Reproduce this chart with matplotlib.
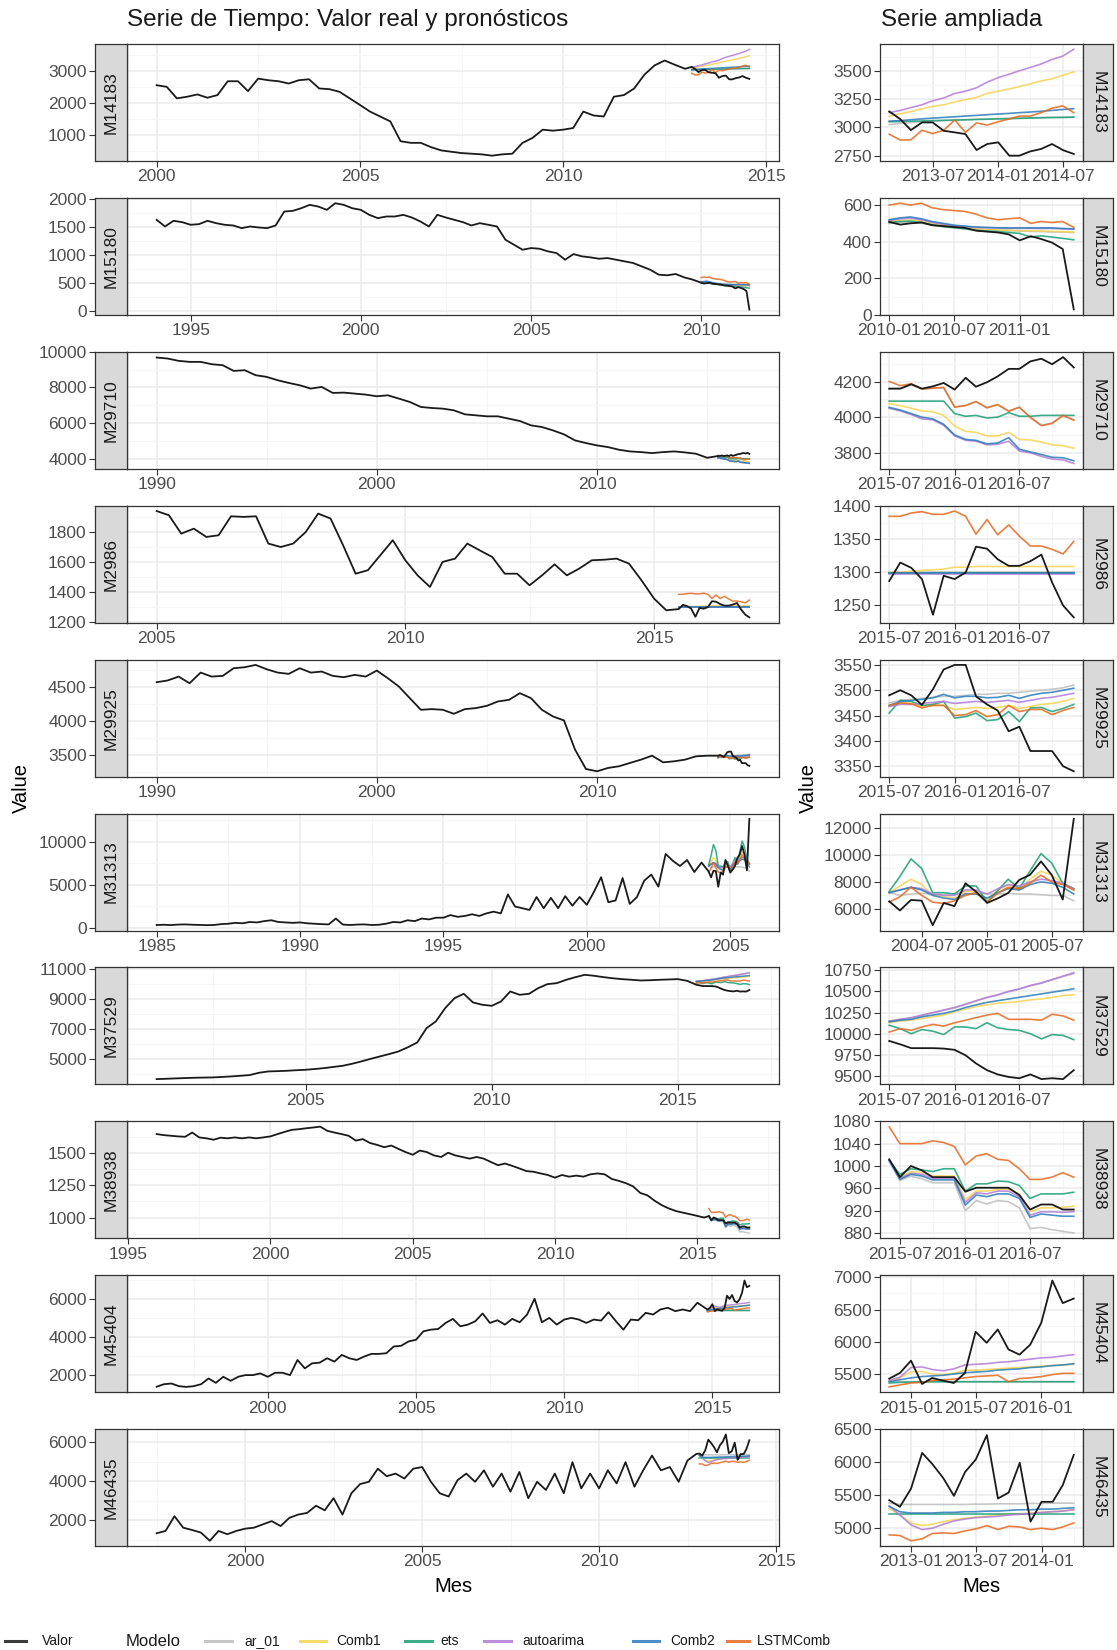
import datetime as dt
import numpy as np
import pandas as pd
import matplotlib
matplotlib.use("Agg")
import matplotlib.pyplot as plt
import matplotlib.dates as mdates
from matplotlib.lines import Line2D
from matplotlib.ticker import FixedLocator

plt.rcParams['font.family'] = ['Liberation Sans', 'DejaVu Sans']

# ---------------- data ----------------
series_ids = ['M14183', 'M15180', 'M29710', 'M2986', 'M29925',
              'M31313', 'M37529', 'M38938', 'M45404', 'M46435']

# history (before forecast window): start month and sampling step in months
hist_start = {'M14183': '2000-01', 'M15180': '1994-01', 'M29710': '1990-01', 'M2986': '2005-01',
              'M29925': '1990-01', 'M31313': '1985-01', 'M37529': '2001-01', 'M38938': '1996-01',
              'M45404': '1996-04', 'M46435': '1997-07'}
hist_step = {'M14183': 3, 'M15180': 3, 'M29710': 6, 'M2986': 3, 'M29925': 6,
             'M31313': 3, 'M37529': 3, 'M38938': 3, 'M45404': 3, 'M46435': 3}

hist_M14183 = [2567, 2516, 2155, 2206, 2278, 2175, 2258, 2691, 2691, 2382, 2773, 2722,
               2691, 2619, 2722, 2753, 2464, 2443, 2361, 2155, 1949, 1742, 1588, 1433,
               814, 763, 763, 629, 526, 485, 443, 423, 402, 361, 402, 423,
               763, 918, 1175, 1144, 1175, 1227, 1742, 1619, 1588, 2206, 2258, 2464,
               2897, 3186, 3340, 3206, 3080]
hist_M15180 = [1627, 1509, 1610, 1586, 1539, 1551, 1610, 1568, 1539, 1527, 1480, 1509,
               1491, 1480, 1527, 1775, 1787, 1834, 1894, 1864, 1805, 1923, 1894, 1834,
               1805, 1716, 1657, 1687, 1687, 1716, 1669, 1598, 1509, 1716, 1669, 1627,
               1586, 1527, 1568, 1539, 1509, 1273, 1184, 1095, 1125, 1113, 1066, 1036,
               918, 1018, 977, 959, 935, 947, 918, 888, 859, 799, 740, 652,
               640, 663, 604, 563]
hist_M29710 = [9680, 9623, 9492, 9436, 9436, 9305, 9249, 8930, 8968, 8687, 8593, 8406,
               8256, 8125, 7938, 8031, 7694, 7713, 7657, 7600, 7507, 7563, 7376, 7189,
               6908, 6851, 6814, 6720, 6496, 6439, 6383, 6383, 6252, 6121, 5877, 5784,
               5596, 5372, 5035, 4885, 4754, 4660, 4510, 4417, 4379, 4323, 4379, 4417,
               4360, 4286, 4061]
hist_M2986 = [1938, 1910, 1788, 1821, 1766, 1777, 1903, 1899, 1903, 1722, 1699, 1722,
              1799, 1921, 1888, 1711, 1522, 1545, 1644, 1744, 1611, 1511, 1434, 1600,
              1622, 1722, 1677, 1633, 1522, 1522, 1445, 1511, 1584, 1511, 1556, 1611,
              1615, 1622, 1589, 1478, 1357, 1279]
hist_M29925 = [4574, 4599, 4657, 4559, 4716, 4657, 4667, 4780, 4795, 4829,
               4765, 4716, 4697, 4780, 4716, 4731, 4667, 4648, 4682, 4657,
               4746, 4633, 4510, 4339, 4167, 4177, 4167, 4108, 4177, 4192,
               4226, 4290, 4314, 4412, 4339, 4167, 4069, 4010, 3579, 3294,
               3260, 3309, 3334, 3383, 3432, 3490, 3392, 3407, 3432, 3481, 3490]
hist_M31313 = [350, 380, 340, 400, 420, 380, 360, 330, 350, 450, 500, 600,
               550, 700, 650, 800, 900, 700, 650, 600, 650, 550, 500, 450,
               420, 1100, 400, 350, 400, 420, 350, 380, 500, 700, 650, 900,
               800, 1100, 1000, 1200, 1200, 1500, 1300, 1400, 1600, 1400, 1700, 1900,
               1700, 3900, 2500, 2300, 2100, 3600, 2300, 3500, 2300, 3700, 2600, 3600,
               2700, 4200, 5900, 3000, 3200, 5800, 2800, 3600, 5500, 6200, 4800, 8600,
               7800, 7200, 7900, 6500, 7600]
hist_M37529 = [3630, 3650, 3674, 3695, 3718, 3730, 3740, 3770, 3807, 3850, 3896, 4050,
               4140, 4160, 4184, 4220, 4251, 4300, 4362, 4440, 4517, 4650, 4806, 4980,
               5140, 5300, 5473, 5750, 6072, 7027, 7472, 8360, 9026, 9315, 8737, 8582,
               8515, 8804, 9470, 9248, 9315, 9692, 9959, 10026, 10248, 10425, 10581, 10514,
               10425, 10350, 10292, 10250, 10203, 10220, 10248, 10270, 10292, 10180]
hist_M38938 = [1649, 1641, 1636, 1631, 1628, 1661, 1623, 1616, 1605, 1621, 1616, 1623,
               1616, 1623, 1616, 1623, 1631, 1649, 1666, 1682, 1687, 1694, 1700, 1707,
               1674, 1661, 1649, 1636, 1598, 1610, 1580, 1565, 1547, 1560, 1534, 1509,
               1488, 1521, 1509, 1483, 1471, 1504, 1483, 1471, 1458, 1471, 1458, 1432,
               1407, 1420, 1402, 1382, 1361, 1356, 1343, 1331, 1310, 1331, 1318, 1326,
               1318, 1336, 1343, 1336, 1300, 1285, 1267, 1242, 1191, 1173, 1132, 1097,
               1071, 1051, 1038, 1026, 1013, 1000]
hist_M45404 = [1380, 1513, 1549,
               1408, 1372, 1408, 1513, 1813, 1584, 1902, 1690, 1902, 1990, 1990, 2078,
               1902, 2113, 2113, 1990, 2784, 2343, 2608, 2643, 2873, 2696, 3049, 2873,
               2784, 2961, 3102, 3102, 3137, 3490, 3526, 3755, 3843, 4284, 4373, 4408,
               4726, 4937, 4549, 4637, 4814, 5220, 4726, 4867, 4637, 4937, 4761, 5167,
               5997, 4761, 4990, 4637, 4902, 4990, 4902, 4726, 4902, 4849, 5291, 4814,
               4373, 4902, 4867, 5255, 5167, 5432, 5520, 5343, 5432, 5343, 5785]
hist_M46435 = [1335, 1453, 2210, 1621, 1503, 1369, 948, 1453, 1285, 1453,
               1571, 1621, 1790, 1958, 1705, 2126, 2294, 2378, 2748, 2513, 3136, 2294,
               3388, 3859, 3977, 4650, 4263, 4398, 4145, 4650, 4735, 3977, 3388, 3220,
               4061, 4398, 3977, 4566, 3725, 4398, 3472, 4482, 3136, 3977, 3557, 4398,
               3388, 4987, 3641, 4398, 3641, 4566, 3893, 4987, 3725, 4566, 5324, 4566,
               4735, 3977, 5071, 5408]
hist_values = {'M14183': hist_M14183, 'M15180': hist_M15180, 'M29710': hist_M29710,
               'M2986': hist_M2986, 'M29925': hist_M29925, 'M31313': hist_M31313,
               'M37529': hist_M37529, 'M38938': hist_M38938, 'M45404': hist_M45404,
               'M46435': hist_M46435}

# forecast window (18 months)
window_start = {'M14183': '2013-03', 'M15180': '2010-01', 'M29710': '2015-07', 'M2986': '2015-07',
                'M29925': '2015-07', 'M31313': '2004-04', 'M37529': '2015-07', 'M38938': '2015-06',
                'M45404': '2014-11', 'M46435': '2012-11'}

valor = {
    'M14183': [3141, 3073, 2976, 3044, 3044, 2970, 2956, 2941, 2800, 2853, 2868, 2750, 2750, 2788, 2809, 2853, 2800, 2765],
    'M15180': [508, 493, 500, 505, 490, 485, 480, 475, 460, 455, 450, 440, 407, 430, 415, 395, 360, 30],
    'M29710': [4160, 4160, 4185, 4160, 4173, 4192, 4155, 4221, 4171, 4196, 4229, 4271, 4271, 4313, 4328, 4297, 4337, 4279],
    'M2986': [1287, 1315, 1307, 1290, 1236, 1295, 1290, 1300, 1339, 1336, 1320, 1310, 1310, 1317, 1327, 1285, 1250, 1232],
    'M29925': [3490, 3500, 3490, 3471, 3502, 3541, 3550, 3550, 3488, 3472, 3460, 3419, 3428, 3380, 3380, 3380, 3350, 3340],
    'M31313': [6560, 5880, 6660, 6610, 4790, 6440, 6200, 7900, 7270, 6440, 6800, 7180, 8150, 8520, 9520, 8520, 6690, 12680],
    'M37529': [9915, 9875, 9830, 9830, 9830, 9825, 9810, 9745, 9650, 9570, 9520, 9490, 9475, 9520, 9465, 9475, 9465, 9570],
    'M38938': [1012, 980, 1000, 992, 980, 980, 980, 954, 961, 961, 961, 961, 948, 922, 931, 931, 922, 922],
    'M45404': [5428, 5515, 5707, 5345, 5438, 5397, 5360, 5515, 6155, 5984, 6191, 5881, 5800, 5955, 6295, 6950, 6600, 6670],
    'M46435': [5425, 5325, 5600, 6140, 5975, 5760, 5490, 5850, 6040, 6410, 5450, 5540, 5990, 5100, 5400, 5400, 5650, 6110],
}

fc_ar_01 = {
    'M14183': [3025, 3035, 3042, 3050, 3055, 3060, 3064, 3068, 3072, 3075, 3078, 3080, 3083, 3085, 3087, 3089, 3090, 3092],
    'M15180': [500, 505, 505, 500, 490, 482, 478, 472, 468, 465, 462, 460, 458, 456, 455, 453, 452, 450],
    'M29710': [4160, 4162, 4180, 4158, 4162, 4165, 4058, 4066, 4086, 4054, 4070, 4035, 4055, 4000, 3955, 3967, 4008, 3985],
    'M2986': [1300, 1300, 1300, 1300, 1300, 1300, 1300, 1300, 1300, 1300, 1300, 1300, 1300, 1300, 1300, 1300, 1300, 1300],
    'M29925': [3475, 3480, 3482, 3484, 3486, 3488, 3488, 3490, 3492, 3492, 3494, 3494, 3496, 3498, 3500, 3502, 3505, 3510],
    'M31313': [7200, 7000, 7100, 7150, 7100, 7050, 7100, 7150, 7150, 7100, 7100, 7150, 7100, 7100, 7050, 7000, 7000, 6600],
    'M37529': [10145, 10165, 10185, 10215, 10245, 10275, 10305, 10345, 10385, 10425, 10455, 10495, 10525, 10565, 10595, 10635, 10675, 10710],
    'M38938': [1008, 974, 982, 977, 970, 970, 970, 920, 938, 932, 938, 936, 925, 888, 890, 886, 883, 880],
    'M45404': [5385, 5382, 5381, 5380, 5380, 5380, 5380, 5380, 5380, 5380, 5380, 5380, 5380, 5380, 5380, 5380, 5380, 5380],
    'M46435': [5380, 5360, 5360, 5360, 5360, 5360, 5360, 5360, 5365, 5365, 5370, 5370, 5370, 5375, 5375, 5380, 5380, 5380],
}
fc_comb1 = {
    'M14183': [3100, 3120, 3140, 3165, 3185, 3200, 3225, 3245, 3265, 3300, 3320, 3340, 3360, 3385, 3410, 3430, 3460, 3490],
    'M15180': [510, 515, 518, 512, 500, 490, 482, 476, 470, 467, 464, 462, 460, 460, 458, 456, 455, 452],
    'M29710': [4075, 4065, 4050, 4035, 4030, 4010, 3950, 3920, 3915, 3895, 3895, 3915, 3875, 3872, 3860, 3845, 3840, 3825],
    'M2986': [1300, 1300, 1302, 1303, 1304, 1305, 1308, 1308, 1309, 1309, 1309, 1309, 1309, 1309, 1309, 1309, 1309, 1309],
    'M29925': [3470, 3475, 3474, 3468, 3472, 3470, 3462, 3464, 3466, 3464, 3466, 3470, 3464, 3468, 3472, 3474, 3478, 3484],
    'M31313': [7200, 7700, 8200, 7800, 7000, 6900, 6800, 7300, 7300, 6700, 7400, 7800, 7400, 8200, 8800, 8500, 7900, 7400],
    'M37529': [10130, 10150, 10160, 10180, 10200, 10220, 10260, 10290, 10320, 10340, 10360, 10370, 10380, 10400, 10410, 10430, 10450, 10460],
    'M38938': [1010, 980, 990, 988, 982, 982, 982, 940, 955, 955, 958, 958, 950, 918, 925, 925, 926, 928],
    'M45404': [5380, 5440, 5530, 5540, 5500, 5490, 5510, 5560, 5560, 5570, 5580, 5590, 5600, 5610, 5620, 5630, 5640, 5650],
    'M46435': [5300, 5200, 5080, 5040, 5060, 5100, 5130, 5150, 5170, 5180, 5200, 5210, 5220, 5230, 5240, 5250, 5260, 5280],
}
fc_ets = {
    'M14183': [3050, 3052, 3055, 3057, 3060, 3062, 3065, 3067, 3070, 3072, 3075, 3077, 3080, 3082, 3085, 3087, 3088, 3090],
    'M15180': [505, 510, 512, 505, 492, 482, 476, 470, 462, 458, 455, 450, 445, 425, 432, 425, 418, 410],
    'M29710': [4090, 4090, 4090, 4090, 4090, 4090, 4020, 4005, 4010, 3995, 4000, 4025, 4005, 4005, 4010, 4010, 4010, 4010],
    'M2986': [1299, 1299, 1299, 1299, 1299, 1299, 1299, 1299, 1299, 1299, 1299, 1299, 1299, 1299, 1299, 1299, 1299, 1299],
    'M29925': [3455, 3480, 3478, 3470, 3472, 3478, 3445, 3448, 3455, 3440, 3442, 3458, 3438, 3465, 3466, 3458, 3464, 3472],
    'M31313': [7300, 8400, 9700, 9000, 7200, 7200, 7100, 7700, 7700, 6500, 7400, 8200, 7500, 8800, 10100, 9400, 7900, 7500],
    'M37529': [10100, 10060, 10000, 10050, 10030, 9990, 10080, 10080, 10060, 10130, 10070, 10050, 10040, 10000, 9940, 9990, 9980, 9930],
    'M38938': [1010, 985, 995, 993, 990, 995, 995, 955, 968, 968, 973, 972, 965, 942, 950, 950, 950, 953],
    'M45404': [5360, 5370, 5375, 5378, 5380, 5380, 5380, 5380, 5380, 5380, 5380, 5380, 5380, 5380, 5380, 5380, 5380, 5380],
    'M46435': [5220, 5220, 5220, 5220, 5220, 5220, 5220, 5220, 5220, 5220, 5220, 5220, 5220, 5220, 5220, 5220, 5220, 5220],
}
fc_autoarima = {
    'M14183': [3130, 3150, 3175, 3200, 3235, 3260, 3300, 3320, 3350, 3400, 3440, 3470, 3500, 3530, 3560, 3600, 3630, 3690],
    'M15180': [515, 525, 528, 520, 505, 495, 488, 482, 478, 476, 474, 473, 473, 473, 472, 472, 470, 468],
    'M29710': [4050, 4035, 4015, 3990, 3985, 3955, 3895, 3870, 3865, 3845, 3848, 3865, 3810, 3800, 3780, 3765, 3760, 3740],
    'M2986': [1298, 1298, 1298, 1298, 1298, 1298, 1298, 1298, 1298, 1298, 1298, 1298, 1298, 1298, 1298, 1298, 1298, 1298],
    'M29925': [3468, 3472, 3472, 3474, 3476, 3478, 3474, 3476, 3478, 3476, 3478, 3480, 3476, 3480, 3484, 3486, 3490, 3494],
    'M31313': [7200, 7400, 7600, 7500, 7100, 7000, 7000, 7400, 7400, 7100, 7500, 7800, 7700, 8000, 8200, 8100, 7900, 7500],
    'M37529': [10150, 10170, 10190, 10220, 10250, 10280, 10310, 10350, 10390, 10430, 10460, 10500, 10530, 10570, 10600, 10640, 10680, 10720],
    'M38938': [1010, 978, 987, 985, 978, 978, 978, 935, 952, 950, 955, 955, 945, 912, 918, 918, 917, 918],
    'M45404': [5400, 5450, 5600, 5610, 5570, 5550, 5580, 5640, 5650, 5660, 5680, 5690, 5710, 5730, 5750, 5760, 5780, 5800],
    'M46435': [5340, 5200, 5050, 4980, 5000, 5060, 5110, 5140, 5160, 5170, 5180, 5200, 5210, 5220, 5240, 5250, 5260, 5280],
}
fc_comb2 = {
    'M14183': [3055, 3060, 3068, 3075, 3082, 3088, 3094, 3100, 3106, 3112, 3118, 3124, 3130, 3136, 3142, 3150, 3158, 3165],
    'M15180': [520, 530, 535, 525, 510, 500, 490, 485, 480, 478, 476, 475, 475, 475, 475, 475, 472, 470],
    'M29710': [4055, 4040, 4020, 4000, 3990, 3960, 3900, 3875, 3870, 3850, 3855, 3885, 3820, 3805, 3790, 3775, 3772, 3755],
    'M2986': [1299, 1299, 1299, 1299, 1299, 1299, 1299, 1299, 1299, 1299, 1299, 1299, 1299, 1299, 1299, 1299, 1299, 1299],
    'M29925': [3470, 3478, 3480, 3482, 3485, 3492, 3485, 3488, 3488, 3485, 3486, 3490, 3484, 3490, 3494, 3496, 3500, 3504],
    'M31313': [7200, 7400, 7600, 7400, 7000, 6800, 6700, 7100, 7100, 6800, 7200, 7500, 7400, 7800, 8000, 7900, 7600, 7100],
    'M37529': [10140, 10160, 10170, 10200, 10220, 10240, 10270, 10310, 10340, 10370, 10390, 10410, 10430, 10450, 10470, 10490, 10510, 10530],
    'M38938': [1010, 976, 985, 982, 975, 975, 975, 930, 948, 945, 950, 950, 942, 908, 914, 912, 910, 910],
    'M45404': [5380, 5410, 5440, 5460, 5470, 5480, 5500, 5520, 5530, 5540, 5560, 5570, 5580, 5600, 5610, 5630, 5640, 5660],
    'M46435': [5330, 5250, 5230, 5230, 5230, 5240, 5240, 5250, 5250, 5260, 5260, 5270, 5280, 5280, 5290, 5290, 5300, 5310],
}
fc_lstmcomb = {
    'M14183': [2940, 2888, 2890, 2975, 2945, 2975, 3065, 2956, 3040, 3020, 3050, 3075, 3100, 3100, 3130, 3170, 3190, 3130],
    'M15180': [600, 610, 600, 610, 585, 575, 570, 565, 550, 530, 520, 525, 530, 500, 510, 505, 510, 478],
    'M29710': [4200, 4177, 4187, 4158, 4163, 4167, 4056, 4065, 4088, 4052, 4071, 4033, 4056, 3998, 3952, 3965, 4010, 3983],
    'M2986': [1385, 1385, 1390, 1392, 1388, 1388, 1393, 1385, 1358, 1380, 1357, 1372, 1355, 1340, 1340, 1335, 1328, 1347],
    'M29925': [3470, 3475, 3473, 3465, 3470, 3470, 3450, 3452, 3460, 3448, 3452, 3470, 3458, 3462, 3462, 3452, 3460, 3466],
    'M31313': [6500, 6900, 7600, 7000, 6500, 6400, 6600, 7000, 7200, 6500, 7200, 7600, 7500, 7900, 8500, 8000, 7800, 7400],
    'M37529': [10020, 10060, 10040, 10080, 10110, 10090, 10130, 10160, 10190, 10220, 10240, 10170, 10170, 10170, 10160, 10230, 10210, 10160],
    'M38938': [1070, 1040, 1040, 1040, 1045, 1042, 1035, 1002, 1018, 1022, 1012, 1010, 995, 976, 976, 980, 988, 980],
    'M45404': [5300, 5330, 5360, 5370, 5400, 5410, 5420, 5440, 5460, 5470, 5480, 5380, 5430, 5440, 5460, 5490, 5510, 5510],
    'M46435': [4900, 4890, 4810, 4840, 4920, 4930, 4920, 4960, 4990, 5040, 4980, 5030, 5020, 4980, 5000, 4980, 5020, 5080],
}

model_names = ['ar_01', 'Comb1', 'ets', 'autoarima', 'Comb2', 'LSTMComb']
model_data = [fc_ar_01, fc_comb1, fc_ets, fc_autoarima, fc_comb2, fc_lstmcomb]
model_colors = ['#BDBDBD', '#F5D352', '#1B9E77', '#B07CD8', '#2B7BBA', '#E6681E']

left_xticks = {'M14183': [2000, 2005, 2010, 2015], 'M15180': [1995, 2000, 2005, 2010],
               'M29710': [1990, 2000, 2010], 'M2986': [2005, 2010, 2015],
               'M29925': [1990, 2000, 2010], 'M31313': [1985, 1990, 1995, 2000, 2005],
               'M37529': [2005, 2010, 2015], 'M38938': [1995, 2000, 2005, 2010, 2015],
               'M45404': [2000, 2005, 2010, 2015], 'M46435': [2000, 2005, 2010, 2015]}
left_yticks = {'M14183': [1000, 2000, 3000], 'M15180': [0, 500, 1000, 1500, 2000],
               'M29710': [4000, 6000, 8000, 10000], 'M2986': [1200, 1400, 1600, 1800],
               'M29925': [3500, 4000, 4500], 'M31313': [0, 5000, 10000],
               'M37529': [5000, 7000, 9000, 11000], 'M38938': [1000, 1250, 1500],
               'M45404': [2000, 4000, 6000], 'M46435': [2000, 4000, 6000]}
right_xticks = {'M14183': ['2013-07', '2014-01', '2014-07'], 'M15180': ['2010-01', '2010-07', '2011-01'],
                'M29710': ['2015-07', '2016-01', '2016-07'], 'M2986': ['2015-07', '2016-01', '2016-07'],
                'M29925': ['2015-07', '2016-01', '2016-07'], 'M31313': ['2004-07', '2005-01', '2005-07'],
                'M37529': ['2015-07', '2016-01', '2016-07'], 'M38938': ['2015-07', '2016-01', '2016-07'],
                'M45404': ['2015-01', '2015-07', '2016-01'], 'M46435': ['2013-01', '2013-07', '2014-01']}
right_yticks = {'M14183': [2750, 3000, 3250, 3500], 'M15180': [0, 200, 400, 600],
                'M29710': [3800, 4000, 4200], 'M2986': [1250, 1300, 1350, 1400],
                'M29925': [3350, 3400, 3450, 3500, 3550], 'M31313': [6000, 8000, 10000, 12000],
                'M37529': [9500, 9750, 10000, 10250, 10500, 10750],
                'M38938': [880, 920, 960, 1000, 1040, 1080],
                'M45404': [5500, 6000, 6500, 7000], 'M46435': [5000, 5500, 6000, 6500]}

# ---------------- layout ----------------
W, H = 1117, 1650
fig = plt.figure(figsize=(W / 100, H / 100), dpi=100)
fig.patch.set_facecolor('white')

ROW_TOP0, ROW_PITCH, PANEL_H = 44, 153.9, 117
L_STRIP_X0, L_X0, L_X1 = 95, 127, 779
R_X0, R_X1, R_STRIP_X1 = 880, 1083, 1113

BORDER = '#333333'
TICKCOL = '#4D4D4D'
TICK_FS = 12.5
GRID_MAJ = '#EBEBEB'
GRID_MIN = '#F5F5F5'


def mids(vals):
    step = vals[1] - vals[0]
    out = [vals[0] - step / 2]
    out += [(a + b) / 2 for a, b in zip(vals[:-1], vals[1:])]
    out.append(vals[-1] + step / 2)
    return out


def style_panel(ax):
    ax.set_facecolor('white')
    for s in ax.spines.values():
        s.set_color(BORDER)
        s.set_linewidth(0.9)
    ax.set_axisbelow(True)
    ax.grid(which='major', color=GRID_MAJ, lw=1.1)
    ax.grid(which='minor', color=GRID_MIN, lw=0.6)
    ax.tick_params(which='minor', length=0)
    ax.tick_params(which='major', length=4, width=0.8, color=BORDER,
                   labelcolor=TICKCOL, labelsize=TICK_FS, pad=2)


def style_strip(ax, label, rot):
    ax.set_facecolor('#D9D9D9')
    for s in ax.spines.values():
        s.set_color(BORDER)
        s.set_linewidth(0.9)
    ax.set_xticks([])
    ax.text(0.5, 0.5, label, transform=ax.transAxes, rotation=rot,
            ha='center', va='center', fontsize=TICK_FS, color='#1A1A1A')


for i, sid in enumerate(series_ids):
    top = ROW_TOP0 + i * ROW_PITCH
    y0 = 1 - (top + PANEL_H) / H
    hh = PANEL_H / H
    axL = fig.add_axes([L_X0 / W, y0, (L_X1 - L_X0) / W, hh])
    axLs = fig.add_axes([L_STRIP_X0 / W, y0, (L_X0 - L_STRIP_X0) / W, hh], sharey=axL)
    axR = fig.add_axes([R_X0 / W, y0, (R_X1 - R_X0) / W, hh])
    axRs = fig.add_axes([R_X1 / W, y0, (R_STRIP_X1 - R_X1) / W, hh])

    hvals = hist_values[sid]
    hdates = pd.date_range(hist_start[sid], periods=len(hvals),
                           freq=f'{hist_step[sid]}MS').to_pydatetime()
    wdates = pd.date_range(window_start[sid], periods=len(valor[sid]), freq='MS').to_pydatetime()
    all_dates = list(hdates) + list(wdates)
    all_vals = list(hvals) + list(valor[sid])

    for mname, mdat, mcol in zip(model_names, model_data, model_colors):
        axL.plot(wdates, mdat[sid], color=mcol, lw=1.1, alpha=0.85, solid_joinstyle='round')
        axR.plot(wdates, mdat[sid], color=mcol, lw=1.2, alpha=0.85, solid_joinstyle='round')
    axL.plot(all_dates, all_vals, color='#1A1A1A', lw=1.3, solid_joinstyle='round')
    axR.plot(wdates, valor[sid], color='#1A1A1A', lw=1.3, solid_joinstyle='round')

    for ax in (axL, axR):
        ax.margins(x=0.05, y=0.05)
        style_panel(ax)

    # left panel ticks
    lx = [mdates.date2num(dt.datetime(y, 1, 1)) for y in left_xticks[sid]]
    axL.set_xticks(lx)
    axL.set_xticklabels([str(y) for y in left_xticks[sid]])
    axL.xaxis.set_minor_locator(FixedLocator(mids(lx)))
    ly = left_yticks[sid]
    axL.set_yticks(ly)
    axL.yaxis.set_minor_locator(FixedLocator(mids(ly)))
    axL.tick_params(axis='y', which='both', left=False, labelleft=False)

    # left strip carries the y axis
    style_strip(axLs, sid, 90)
    axLs.tick_params(axis='y', which='major', left=True, labelleft=True, length=4,
                     width=0.8, color=BORDER, labelcolor=TICKCOL, labelsize=TICK_FS, pad=2)
    axLs.tick_params(axis='y', which='minor', length=0)
    axLs.set_yticklabels([str(v) for v in ly])

    # right panel ticks
    rx = [mdates.date2num(pd.Timestamp(s + '-01').to_pydatetime()) for s in right_xticks[sid]]
    axR.set_xticks(rx)
    axR.set_xticklabels(right_xticks[sid])
    axR.xaxis.set_minor_locator(FixedLocator(mids(rx)))
    ry = right_yticks[sid]
    axR.set_yticks(ry)
    axR.set_yticklabels([str(v) for v in ry])
    axR.yaxis.set_minor_locator(FixedLocator(mids(ry)))

    style_strip(axRs, sid, -90)
    axRs.set_yticks([])

# titles and axis labels
fig.text(127 / W, 1 - 20 / H, 'Serie de Tiempo: Valor real y pronósticos',
         fontsize=17.5, ha='left', va='center', color='#1A1A1A')
fig.text(881 / W, 1 - 20 / H, 'Serie ampliada', fontsize=17.5, ha='left', va='center', color='#1A1A1A')
fig.text(21 / W, 1 - 788 / H, 'Value', rotation=90, fontsize=14.5, ha='center', va='center')
fig.text(808 / W, 1 - 788 / H, 'Value', rotation=90, fontsize=14.5, ha='center', va='center')
fig.text(453 / W, 1 - 1586 / H, 'Mes', fontsize=14.5, ha='center', va='center')
fig.text(981 / W, 1 - 1586 / H, 'Mes', fontsize=14.5, ha='center', va='center')

# legend along the bottom
LEG_Y = 1 - 1641 / H
LEG_FS = 10


def legend_item(x0, x1, xt, color, label):
    fig.add_artist(Line2D([x0 / W, x1 / W], [LEG_Y, LEG_Y], transform=fig.transFigure,
                          color=color, lw=2.2, alpha=0.85))
    fig.text(xt / W, LEG_Y, label, fontsize=LEG_FS, ha='left', va='center', color='#1A1A1A')


legend_item(5, 26, 42, '#1A1A1A', 'Valor')
fig.text(126 / W, LEG_Y, 'Modelo', fontsize=12, ha='left', va='center', color='#1A1A1A')
key_pos = [(205, 232, 244), (300, 326, 336), (405, 432, 440),
           (484, 511, 522), (633, 659, 670), (727, 749, 757)]
for (x0, x1, xt), name, col in zip(key_pos, model_names, model_colors):
    legend_item(x0, x1, xt, col, name)

fig.savefig('out.png', dpi=100)
